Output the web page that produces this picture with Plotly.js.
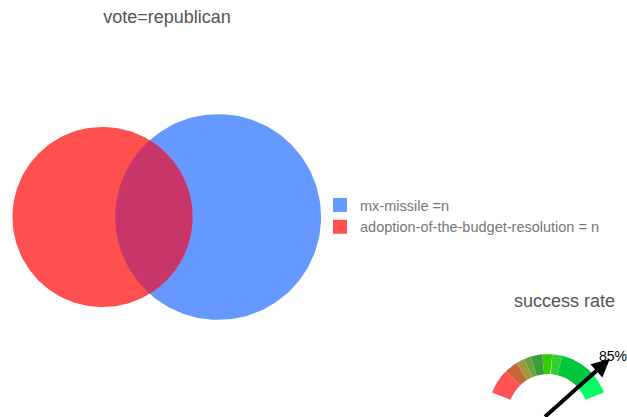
<!DOCTYPE html>
<html><head><meta charset="utf-8">
<script src="https://cdn.plot.ly/plotly-3.0.1.min.js"></script>
<style>html,body{margin:0;padding:0;background:#fff;overflow:hidden}#chart{width:627px;height:417px}</style>
</head><body><div id="chart"></div>
<script>
// ---------- data ----------
const titleText = 'vote=republican';
const setNames = ['mx-missile =n', 'adoption-of-the-budget-resolution = n'];
const setSizes = [120, 92];          // set sizes (area units)
const overlapSize = 30;              // size of the intersection
const setColors = ['#6699ff', '#ff5050'];
const overlapColor = '#c83569';

const gaugeTitle = 'success rate';
const gaugeValue = 85;               // percent
const gaugeBands = [0, 18, 27, 33, 38, 46, 53, 60, 85, 100];
const gaugeColors = ['#ff5252', '#c8643a', '#a0963c', '#6ea03c', '#3c9b3c', '#33cc00', '#33cc33', '#00c83c', '#00ff66'];

// ---------- layout constants ----------
const W = 627, H = 417;
const FONT = 'Liberation Sans, Arial, sans-serif';
const vennDomX = [0, 0.56];
const vennPPU = 16.65;               // pixels per unit
const vennRedCenterPx = [102.5, 217];
const gDomX = [0.68, 1], gDomY = [0, 0.3];
const gPPU = 60, gCenterPx = [548, 414];
const gStartAng = 159, gEndAng = 21, gInner = 0.667, gOuter = 1;

// ---------- venn geometry ----------
const rB = Math.sqrt(setSizes[0] / Math.PI);
const rR = Math.sqrt(setSizes[1] / Math.PI);
function lens(r1, r2, d) {
  if (d >= r1 + r2) return 0;
  if (d <= Math.abs(r1 - r2)) return Math.PI * Math.min(r1, r2) ** 2;
  const a1 = Math.acos((d*d + r1*r1 - r2*r2) / (2*d*r1));
  const a2 = Math.acos((d*d + r2*r2 - r1*r1) / (2*d*r2));
  const k = Math.sqrt((-d+r1+r2)*(d+r1-r2)*(d-r1+r2)*(d+r1+r2));
  return r1*r1*a1 + r2*r2*a2 - 0.5*k;
}
let lo = Math.abs(rB - rR), hi = rB + rR;
for (let i = 0; i < 80; i++) {
  const mid = (lo + hi) / 2;
  if (lens(rR, rB, mid) > overlapSize) lo = mid; else hi = mid;
}
const d = (lo + hi) / 2;
const cR = [0, 0], cB = [d, 0];
function circle(c, r, n) {
  const xs = [], ys = [];
  for (let i = 0; i <= n; i++) { const t = 2*Math.PI*i/n; xs.push(c[0] + r*Math.cos(t)); ys.push(c[1] + r*Math.sin(t)); }
  return {xs, ys};
}
const cb = circle(cB, rB, 240), cr = circle(cR, rR, 240);
const x0 = (d*d + rR*rR - rB*rB) / (2*d);
const h = Math.sqrt(rR*rR - x0*x0);
const alpha = Math.atan2(h, x0), beta = Math.atan2(h, x0 - d);
const lx = [], ly = [];
for (let i = 0; i <= 120; i++) { const t = -alpha + 2*alpha*i/120; lx.push(cR[0] + rR*Math.cos(t)); ly.push(cR[1] + rR*Math.sin(t)); }
for (let i = 0; i <= 120; i++) { const t = beta + (2*Math.PI - 2*beta)*i/120; lx.push(cB[0] + rB*Math.cos(t)); ly.push(cB[1] + rB*Math.sin(t)); }

const traces = [
  {x: cb.xs, y: cb.ys, type: 'scatter', mode: 'lines', fill: 'toself', fillcolor: setColors[0], line: {width: 0}, showlegend: false, hoverinfo: 'skip'},
  {x: cr.xs, y: cr.ys, type: 'scatter', mode: 'lines', fill: 'toself', fillcolor: setColors[1], line: {width: 0}, showlegend: false, hoverinfo: 'skip'},
  {x: lx, y: ly, type: 'scatter', mode: 'lines', fill: 'toself', fillcolor: overlapColor, line: {width: 0}, showlegend: false, hoverinfo: 'skip'},
];
setNames.forEach((n, i) => traces.push({x: [null], y: [null], type: 'scatter', mode: 'markers', name: n,
  marker: {symbol: 'square', size: 14, color: setColors[i]}, showlegend: true}));

// ---------- gauge ----------
const ang = v => (gStartAng + (gEndAng - gStartAng) * v / 100) * Math.PI / 180;
for (let i = 0; i < gaugeColors.length; i++) {
  const a0 = ang(gaugeBands[i]), a1 = ang(gaugeBands[i+1]);
  const xs = [], ys = [];
  const n = 30;
  for (let k = 0; k <= n; k++) { const t = a0 + (a1 - a0)*k/n; xs.push(gOuter*Math.cos(t)); ys.push(gOuter*Math.sin(t)); }
  for (let k = n; k >= 0; k--) { const t = a0 + (a1 - a0)*k/n; xs.push(gInner*Math.cos(t)); ys.push(gInner*Math.sin(t)); }
  traces.push({x: xs, y: ys, xaxis: 'x2', yaxis: 'y2', type: 'scatter', mode: 'lines', fill: 'toself',
    fillcolor: gaugeColors[i], line: {width: 0}, showlegend: false, hoverinfo: 'skip'});
}
const va = ang(gaugeValue);

// ---------- axes ranges ----------
const vxr = [-vennRedCenterPx[0]/vennPPU, (vennDomX[1]*W - vennRedCenterPx[0])/vennPPU];
const vyr = [-(H - vennRedCenterPx[1])/vennPPU, vennRedCenterPx[1]/vennPPU];
const gx0 = gDomX[0]*W, gx1 = gDomX[1]*W, gyTop = H - gDomY[1]*H, gyBot = H - gDomY[0]*H;
const gxr = [(gx0 - gCenterPx[0])/gPPU, (gx1 - gCenterPx[0])/gPPU];
const gyr = [(gCenterPx[1] - gyBot)/gPPU, (gCenterPx[1] - gyTop)/gPPU];
const hid = {showgrid: false, zeroline: false, showticklabels: false, ticks: '', showline: false, fixedrange: true};

const layout = {
  width: W, height: H,
  margin: {l: 0, r: 0, t: 0, b: 0},
  paper_bgcolor: '#fff', plot_bgcolor: 'rgba(0,0,0,0)',
  font: {family: FONT, color: '#555'},
  title: {text: titleText, x: 167/W, xanchor: 'center', y: 1 - 17/H, yanchor: 'middle', font: {size: 18, color: '#555', family: FONT}},
  xaxis: Object.assign({domain: vennDomX, range: vxr}, hid),
  yaxis: Object.assign({domain: [0, 1], range: vyr}, hid),
  xaxis2: Object.assign({domain: gDomX, range: gxr, anchor: 'y2'}, hid),
  yaxis2: Object.assign({domain: gDomY, range: gyr, anchor: 'x2'}, hid),
  showlegend: true,
  legend: {x: 320/W, xanchor: 'left', y: 1 - 216/H, yanchor: 'middle', font: {size: 14.5, color: '#777', family: FONT}, bgcolor: 'rgba(0,0,0,0)', itemclick: false, itemdoubleclick: false},
  annotations: [
    {text: gaugeTitle, xref: 'paper', yref: 'paper', x: 564/W, y: 1 - 301/H, xanchor: 'center', yanchor: 'middle', showarrow: false, font: {size: 18, color: '#555', family: FONT}},
    {text: '', xref: 'x2', yref: 'y2', x: 1.38*Math.cos(va), y: 1.38*Math.sin(va), axref: 'x2', ayref: 'y2', ax: -0.1*Math.cos(va), ay: -0.1*Math.sin(va),
     showarrow: true, arrowhead: 2, arrowsize: 0.9, arrowwidth: 4, arrowcolor: '#000', standoff: 0},
    {text: gaugeValue + '%', xref: 'x2', yref: 'y2', x: 1.45*Math.cos(va), y: 1.45*Math.sin(va), xanchor: 'center', yanchor: 'middle', showarrow: false, font: {size: 14, color: '#000', family: FONT}}
  ]
};
Plotly.newPlot('chart', traces, layout, {displayModeBar: false, staticPlot: true});
</script></body></html>
